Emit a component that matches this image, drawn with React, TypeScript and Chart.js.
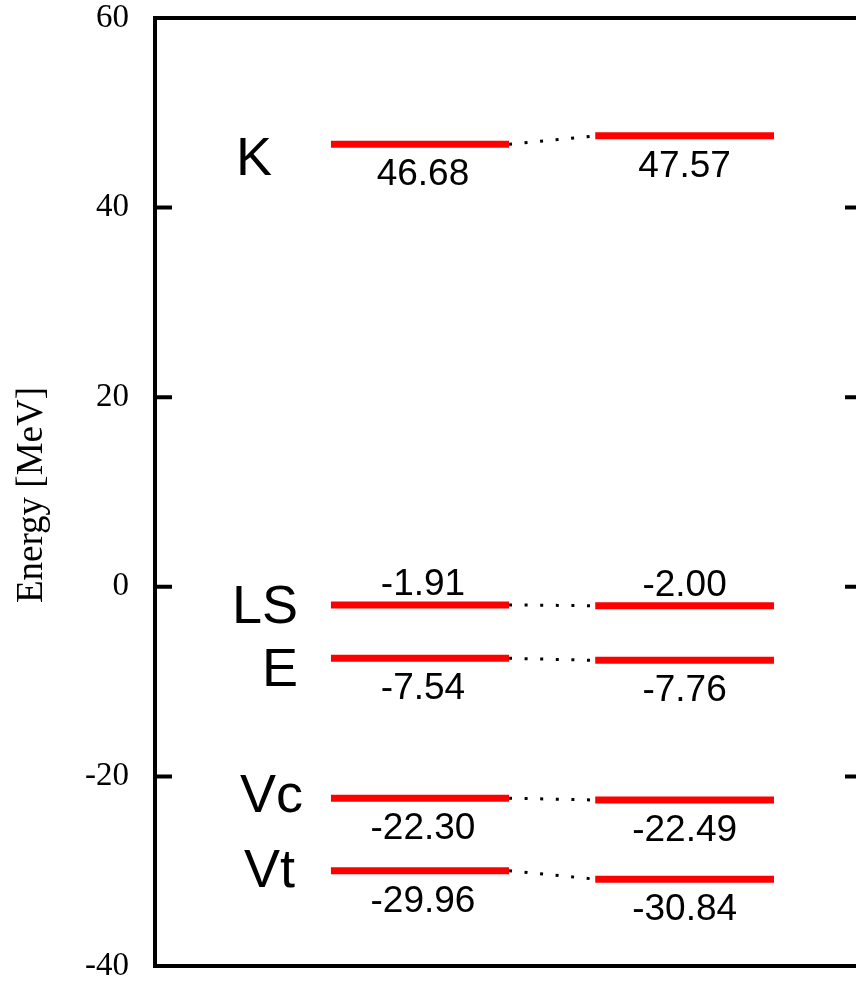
import React, { useEffect, useRef } from 'react';
import { Chart, registerables } from 'chart.js';

Chart.register(...registerables);

// ---- data ----
const levelNames = ['K', 'LS', 'E', 'Vc', 'Vt'];
const leftValues = [46.68, -1.91, -7.54, -22.3, -29.96];
const rightValues = [47.57, -2.0, -7.76, -22.49, -30.84];
const valueLabelSide = ['below', 'above', 'below', 'below', 'below'];
const yTickValues = [60, 40, 20, 0, -20, -40];
const axisTitle = 'Energy [MeV]';

// ---- layout / style ----
const LEFT_BAR = [2.51, 5.05];
const RIGHT_BAR = [6.28, 8.83];
const NAME_RIGHT_X = [272, 298, 298, 303, 295];
const NAME_BASELINE_DY = [31, 18, 28, 14, 16];
const RED = '#ff0000';

const framePlugin = {
  id: 'framePlugin',
  afterDraw(chart: any) {
    const { ctx, chartArea } = chart;
    const y = chart.scales.y;
    const x = chart.scales.x;
    const W = chart.width;
    ctx.save();
    // frame
    ctx.strokeStyle = '#000';
    ctx.lineWidth = 4;
    ctx.lineCap = 'butt';
    ctx.beginPath();
    ctx.moveTo(W + 10, chartArea.top);
    ctx.lineTo(chartArea.left, chartArea.top);
    ctx.lineTo(chartArea.left, chartArea.bottom);
    ctx.lineTo(W + 10, chartArea.bottom);
    ctx.stroke();
    // inward ticks
    yTickValues.forEach((v) => {
      const py = y.getPixelForValue(v);
      ctx.beginPath();
      ctx.moveTo(chartArea.left, py);
      ctx.lineTo(chartArea.left + 17, py);
      ctx.moveTo(W - 11, py);
      ctx.lineTo(W + 5, py);
      ctx.stroke();
    });
    // axis title
    ctx.fillStyle = '#000';
    ctx.font = '37px "Liberation Serif"';
    ctx.textAlign = 'center';
    ctx.textBaseline = 'alphabetic';
    ctx.translate(42, (chartArea.top + chartArea.bottom) / 2 + 3);
    ctx.rotate(-Math.PI / 2);
    ctx.fillText(axisTitle, 0, 0);
    ctx.restore();

    ctx.save();
    ctx.fillStyle = '#000';
    ctx.textBaseline = 'alphabetic';
    // value labels
    ctx.font = '37px "Liberation Sans"';
    ctx.textAlign = 'center';
    levelNames.forEach((_, i) => {
      const dy = valueLabelSide[i] === 'above' ? -10 : 41;
      const lx = (x.getPixelForValue(LEFT_BAR[0]) + x.getPixelForValue(LEFT_BAR[1])) / 2;
      const rx = (x.getPixelForValue(RIGHT_BAR[0]) + x.getPixelForValue(RIGHT_BAR[1])) / 2;
      ctx.fillText(leftValues[i].toFixed(2), lx + 3, y.getPixelForValue(leftValues[i]) + dy);
      ctx.fillText(rightValues[i].toFixed(2), rx, y.getPixelForValue(rightValues[i]) + dy);
    });
    // level names
    ctx.font = '54px "Liberation Sans"';
    ctx.textAlign = 'right';
    levelNames.forEach((name, i) => {
      ctx.fillText(name, NAME_RIGHT_X[i], y.getPixelForValue(leftValues[i]) + NAME_BASELINE_DY[i]);
    });
    ctx.restore();
  },
};

export default function App() {
  const ref = useRef<HTMLCanvasElement | null>(null);

  useEffect(() => {
    if (!ref.current) return;
    const datasets: any[] = [];
    levelNames.forEach((name, i) => {
      datasets.push({
        label: name + ' left',
        data: [
          { x: LEFT_BAR[0], y: leftValues[i] },
          { x: LEFT_BAR[1], y: leftValues[i] },
        ],
        borderColor: RED,
        borderWidth: 7,
        borderCapStyle: 'butt',
        pointRadius: 0,
        fill: false,
      });
      datasets.push({
        label: name + ' right',
        data: [
          { x: RIGHT_BAR[0], y: rightValues[i] },
          { x: RIGHT_BAR[1], y: rightValues[i] },
        ],
        borderColor: RED,
        borderWidth: 7,
        borderCapStyle: 'butt',
        pointRadius: 0,
        fill: false,
      });
      datasets.push({
        label: name + ' link',
        data: [
          { x: LEFT_BAR[1], y: leftValues[i] },
          { x: RIGHT_BAR[0], y: rightValues[i] },
        ],
        borderColor: '#000',
        borderWidth: 3,
        borderDash: [3, 12.6],
        borderCapStyle: 'butt',
        pointRadius: 0,
        fill: false,
      });
    });

    const chart = new Chart(ref.current, {
      type: 'line',
      data: { datasets },
      options: {
        animation: false,
        responsive: false,
        devicePixelRatio: 1,
        layout: { padding: { top: 18, bottom: 16, left: 0, right: 0 } },
        plugins: {
          legend: { display: false },
          tooltip: { enabled: false },
          title: { display: false },
        },
        scales: {
          x: { type: 'linear', min: 0, max: 10, display: false },
          y: {
            type: 'linear',
            min: -40,
            max: 60,
            afterBuildTicks: (s: any) => {
              s.ticks = yTickValues.map((v) => ({ value: v }));
            },
            afterFit: (s: any) => {
              s.width = 155;
              s.paddingTop = 0;
              s.paddingBottom = 0;
            },
            ticks: {
              color: '#000',
              padding: 26,
              font: { family: '"Liberation Serif"', size: 33, lineHeight: 1 },
            },
            grid: { display: false, drawTicks: false },
            border: { display: false },
          },
        },
      },
      plugins: [framePlugin],
    });
    return () => chart.destroy();
  }, []);

  return (
    <div style={{ position: 'absolute', left: 0, top: 0, width: 856, height: 982, background: '#fff' }}>
      <canvas ref={ref} width={856} height={982} style={{ display: 'block' }} />
    </div>
  );
}
